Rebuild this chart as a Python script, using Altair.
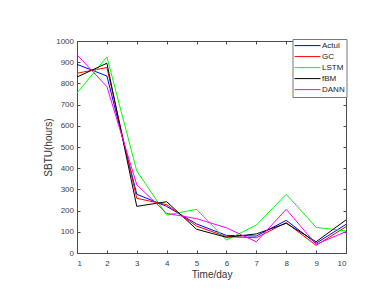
import altair as alt
import pandas as pd

days = list(range(1, 11))
series_names = ["Actul", "GC", "LSTM", "fBM", "DANN"]
actul = [890, 835, 277, 220, 137, 83, 80, 154, 46, 135]
gc = [848, 875, 258, 228, 127, 77, 72, 143, 36, 124]
lstm = [755, 925, 387, 179, 206, 61, 132, 277, 121, 104]
fbm = [830, 895, 220, 242, 112, 74, 90, 140, 53, 156]
dann = [935, 785, 322, 187, 162, 119, 53, 206, 41, 101]
colors = ["#0000ff", "#ff0000", "#00ff00", "#000000", "#ff00ff"]
y_ticks = list(range(0, 1001, 100))

rows = []
for i, (name, vals) in enumerate(zip(series_names, [actul, gc, lstm, fbm, dann])):
    for d, v in zip(days, vals):
        rows.append({"day": d, "value": v, "model": name, "k": i})
df = pd.DataFrame(rows)

xscale = alt.Scale(domain=[1, 10], nice=False)
yscale = alt.Scale(domain=[0, 1000], nice=False)
tick_in = {"expr": "-3"}

axis_common = dict(
    domainColor="#4a4a4a", tickColor="#4a4a4a", tickSize=tick_in, grid=False,
    labelFont="Liberation Sans", labelFontSize=8, labelColor="#404040",
    titleFont="Liberation Sans", titleFontSize=10, titleFontWeight="normal",
    titleColor="#333333",
)

lines = alt.Chart(df).mark_line(strokeWidth=1).encode(
    x=alt.X("day:Q", scale=xscale,
            axis=alt.Axis(title="Time/day", values=days, format="d", labelPadding=9.5,
                          titlePadding=2, **axis_common)),
    y=alt.Y("value:Q", scale=yscale,
            axis=alt.Axis(title="SBTU(hours)", values=y_ticks, format="d", labelPadding=6.5,
                          titlePadding=2, **axis_common)),
    color=alt.Color("model:N", sort=series_names,
                    scale=alt.Scale(domain=series_names, range=colors),
                    legend=alt.Legend(title=None, orient="none", legendX=215.5, legendY=-2,
                                      symbolType="stroke", symbolSize=676, symbolStrokeWidth=1,
                                      symbolOffset=0, clipHeight=10.2, rowPadding=0,
                                      labelFont="Liberation Sans", labelFontSize=8,
                                      labelColor="#222222", labelOffset=1, padding=1.5,
                                      strokeColor="#777777", fillColor="#ffffff")),
    order=alt.Order("k:Q"),
)

frame = alt.Chart(df).mark_line(opacity=0).encode(
    x=alt.X("day:Q", scale=xscale,
            axis=alt.Axis(orient="top", title=None, labels=False, values=days, **axis_common)),
    y=alt.Y("value:Q", scale=yscale,
            axis=alt.Axis(orient="right", title=None, labels=False, values=y_ticks, **axis_common)),
)

chart = alt.layer(lines, frame).resolve_axis(x="independent", y="independent").properties(
    width=269, height=212,
    padding={"left": 69, "top": 33, "right": 30, "bottom": 38},
    autosize=alt.AutoSizeParams(type="none"),
).configure_view(stroke=None).configure(background="#ffffff")

chart.save("out.html", embed_options={"renderer": "svg", "actions": False})
